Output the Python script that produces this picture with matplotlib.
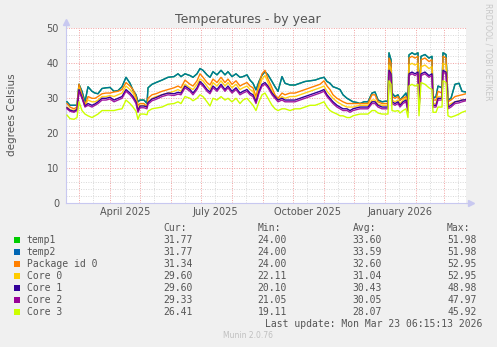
import matplotlib
matplotlib.use('Agg')
import matplotlib.pyplot as plt
from matplotlib.patches import Rectangle
from datetime import datetime, timedelta

# day offsets from 17 Feb 2025 06:15 (one graph pixel per day)
days = [0, 3, 7, 10, 12, 15, 18, 21, 25, 28,
        31, 35, 39, 43, 47, 51, 55, 59, 63, 66,
        69, 71, 73, 77, 80, 81, 85, 89, 95, 101,
        107, 111, 114, 118, 123, 126, 130, 133, 136, 140,
        143, 146, 150, 154, 158, 161, 165, 169, 173, 176,
        180, 183, 186, 189, 192, 195, 198, 201, 205, 208,
        211, 215, 218, 223, 228, 233, 238, 243, 248, 253,
        257, 260, 263, 266, 270, 273, 276, 280, 283, 286,
        290, 293, 297, 301, 305, 308, 311, 315, 319, 321,
        322, 324, 325, 328, 331, 333, 336, 339, 341, 342,
        345, 348, 351, 352, 354, 358, 362, 365, 366, 369,
        371, 375, 376, 379, 381, 384, 388, 392, 395, 399]

temp2 = [29, 28, 28, 28, 34, 32, 29, 33.3, 32, 31.5,
         31.3, 32.8, 33, 33.1, 32, 32.2, 33.3, 36, 34.3, 32.3,
         31, 29, 29.5, 29.5, 28.5, 33, 34, 34.5, 35.2, 36,
         36.2, 37, 36.2, 37, 36.5, 36, 37, 38.5, 38, 36.7,
         36, 37.6, 36.7, 38, 36.7, 37.6, 36.2, 37, 36, 36.2,
         36.7, 35.2, 34.3, 32.4, 34.8, 36.6, 37.6, 36.7, 34.8, 33.3,
         32, 36.2, 34.3, 33.8, 33.8, 34.3, 34.8, 35, 35.2, 35.7,
         36, 34.8, 34.3, 33.3, 32.9, 32.5, 31, 30, 29.5, 29,
         28.8, 28.5, 29, 29, 31.5, 31.8, 29.5, 29, 29.2, 29,
         43, 41, 31.5, 30.5, 31, 29.5, 30.5, 31.5, 28, 42.4,
         43, 42.5, 43, 28.5, 42, 42.5, 41.5, 42, 30, 30.5,
         33.5, 33, 43, 42.5, 29.5, 30, 34, 34.3, 32, 31.8]
temp1 = list(temp2)

package = [28.5, 27.5, 27, 27.5, 34, 31, 28, 30.5, 30, 30,
           30.5, 31.3, 31.5, 31.5, 31.8, 32, 32.5, 34.5, 33.5, 32.5,
           30.5, 28, 28.5, 28.5, 27.5, 30, 31, 31.3, 32, 32.5,
           33, 33.5, 33, 35.2, 34, 33.5, 35, 37, 36, 34.5,
           33.8, 35.5, 34.5, 36, 34.5, 35.5, 34, 35, 33.5, 34,
           34.5, 33.5, 33, 30.5, 34, 37, 38, 35.5, 33, 31,
           30, 31.5, 31, 31.5, 31.5, 32, 32.5, 33, 33.5, 34,
           35, 33.5, 32.5, 31, 30, 29.5, 29, 28.5, 28.5, 28.5,
           28.5, 28.5, 28.5, 28.5, 31, 31, 29, 28.5, 28.5, 28.5,
           41.5, 40, 30.5, 30, 30.5, 29.5, 30, 30.5, 27.5, 41.5,
           42, 41.5, 42, 28, 41, 41.5, 40.5, 41, 29.5, 29.5,
           32, 31.5, 42, 41.5, 29, 29.5, 30.5, 30.8, 31, 31.3]

core0 = [27.5, 26.8, 26.5, 27, 33, 30.5, 27.8, 29.5, 29, 29,
         29.5, 30.5, 30.5, 30.8, 30.5, 31, 31.5, 33.5, 32.5, 31.5,
         29.5, 27, 28, 28, 27.5, 29, 30, 30.5, 31, 31.5,
         32, 32.5, 32, 34, 33, 32.5, 34, 35.5, 35, 33.5,
         32.5, 34.5, 33.5, 35, 33.5, 34.5, 33, 34, 32.5, 33,
         33.5, 32.5, 32, 29.5, 33, 35.5, 36.5, 34.5, 32, 30.5,
         29.5, 30.5, 30, 30.5, 30.5, 31, 31.5, 32, 32.5, 33,
         33.5, 32, 31, 30, 29, 28.5, 28, 27.5, 27.5, 27.5,
         27.8, 28, 28, 28, 29.5, 29.5, 28.3, 28, 28, 28,
         39.5, 38.5, 29.5, 29, 29.5, 28.5, 29.5, 30, 27, 39.5,
         40, 39.5, 40, 27.5, 39, 39.5, 38.5, 39, 28.5, 28.5,
         30.5, 30.5, 40, 39.5, 28, 28.5, 29, 29.3, 29.5, 29.6]

core1 = [27.3, 26.6, 26.3, 26.8, 32.5, 30.3, 27.8, 28.5, 28, 28.4,
         29, 30, 30, 30.3, 29.5, 30, 30.5, 32.5, 31.5, 30.5,
         29, 26.5, 27.8, 27.8, 27.5, 28.8, 29.8, 30.2, 31, 31.5,
         31.3, 31.7, 31.5, 33.5, 32.5, 31.5, 33, 34.8, 34, 32.5,
         31.8, 33.5, 32.5, 34, 32.5, 33.5, 32, 33, 31.5, 32,
         32.5, 31.5, 31, 29, 32, 34, 34.5, 33.5, 31.5, 30.5,
         29.5, 30, 29.5, 29.5, 29.5, 30, 30.5, 31, 31.5, 32,
         32.5, 31, 30, 29, 28, 27.5, 27, 27, 26.5, 27,
         27.3, 27.5, 27.5, 27.5, 29, 29, 28, 27.5, 27.5, 27.5,
         38, 37, 29, 28.5, 29, 28, 29, 29.5, 26.5, 37,
         37.5, 37, 37.5, 27, 37, 37.5, 36.5, 37, 28, 28,
         30, 30, 38, 37.5, 27.5, 28, 29, 29.2, 29.5, 29.6]

core2 = [27, 26.3, 26, 26.5, 32, 30, 27.5, 28, 27.5, 28,
         28.5, 29.5, 29.5, 29.8, 29, 29.5, 30, 32, 31, 30,
         28.5, 26, 27.3, 27.3, 27, 28.3, 29.3, 29.7, 30.5, 31,
         30.8, 31.2, 31, 33, 32, 31, 32.5, 34.3, 33.5, 32,
         31.3, 33, 32, 33.5, 32, 33, 31.5, 32.5, 31, 31.5,
         32, 31, 30.5, 28.5, 31.5, 33.5, 34, 33, 31, 30,
         29, 29.5, 29, 29, 29, 29.5, 30, 30.5, 31, 31.5,
         32, 30.5, 29.5, 28.5, 27.5, 27, 26.5, 26.5, 26, 26.5,
         26.8, 27, 27, 27, 28.5, 28.5, 27.5, 27, 27, 27,
         37.5, 36.5, 28.5, 28, 28.5, 27.5, 28.5, 29, 26, 36.5,
         37, 36.5, 37, 26.5, 36.5, 37, 36, 36.5, 27.5, 27.5,
         29.5, 29.5, 37.5, 37, 27, 27.5, 28.5, 28.7, 29, 29.3]

core3 = [25.2, 24.2, 24, 24.5, 29, 26.5, 25.5, 25, 24.5, 25,
         25.5, 26.5, 26.5, 26.5, 26.5, 26.8, 27, 29.5, 28.5, 27.5,
         26.3, 24, 25.5, 25.5, 25.3, 26.3, 27, 27.2, 27.5, 28.3,
         28.5, 29, 28.5, 30.5, 30, 29.3, 30, 31, 30.5, 29,
         27.8, 30, 29.5, 30.5, 29.5, 30, 29, 30, 28.5, 29.5,
         30, 29, 28, 26.5, 29, 31, 31.5, 30, 28, 27,
         26.5, 27, 27, 26.5, 27, 27, 27.5, 28, 28, 28.5,
         29, 27.5, 26.5, 26, 25.5, 25, 25, 24.5, 24.5, 25,
         25.3, 25.5, 25.5, 25.5, 26.5, 26.5, 25.8, 25.5, 25.5, 25.5,
         35, 34, 26.5, 26.3, 26.5, 25.8, 26.5, 27, 24.5, 33.5,
         34, 33.5, 34, 25, 34.5, 34, 33, 32.5, 26, 26,
         27.5, 27.5, 35, 34.5, 25, 24.6, 25, 25.5, 26, 26.4]

names = ['temp1', 'temp2', 'Package id 0', 'Core 0', 'Core 1', 'Core 2', 'Core 3']
colors = ['#00CC00', '#0066B3', '#FF8000', '#FFCC00', '#330099', '#990099', '#CCFF00']
cur = ['31.77', '31.77', '31.34', '29.60', '29.60', '29.33', '26.41']
mins = ['24.00', '24.00', '24.00', '22.11', '20.10', '21.05', '19.11']
avgs = ['33.60', '33.59', '32.60', '31.04', '30.43', '30.05', '28.07']
maxs = ['51.98', '51.98', '52.95', '52.95', '48.98', '47.97', '45.92']

series = [temp1, temp2, package, core0, core1, core2, core3]
alphas = [1.0, 0.87, 1.0, 0.9, 1.0, 0.9, 1.0]

W, H = 497, 347
txt = '#555555'
mono = 'DejaVu Sans Mono'

fig = plt.figure(figsize=(W / 100, H / 100), dpi=100, facecolor='#F0F0F0')
ax = fig.add_axes([66 / W, 1 - 203.3 / H, 400 / W, 175 / H])
ax.set_facecolor('white')

end = datetime(2026, 3, 23, 6, 15)
start = end - timedelta(days=400)
base = datetime(2025, 2, 17, 6, 15)
dates = [base + timedelta(days=d) for d in days]

# grid: grey minor, red major
for y in range(0, 51, 2):
    if y % 10:
        ax.axhline(y, color='#D8D8D8', lw=0.7, ls=(0, (1, 1.5)), zorder=0)
for y in range(10, 51, 10):
    ax.axhline(y, color='#F2A0A0', lw=0.7, ls=(0, (1, 1.5)), zorder=1)
d = datetime(2025, 2, 15)
while d < end:
    if d > start:
        c = '#F2A0A0' if d.day == 1 else '#D8D8D8'
        ax.axvline(d, color=c, lw=0.7, ls=(0, (1, 1.5)), zorder=1 if d.day == 1 else 0)
    if d.day == 1:
        d = d.replace(day=15)
    elif d.month < 12:
        d = d.replace(day=1, month=d.month + 1)
    else:
        d = d.replace(day=1, month=1, year=d.year + 1)

for s, c, a in zip(series, colors, alphas):
    ax.plot(dates, s, color=c, lw=1.0, alpha=a, zorder=3)

ax.set_xlim(start, end)
ax.set_ylim(0, 50)
ax.set_yticks(range(0, 51, 10))
lab_dates = [datetime(2025, 4, 16), datetime(2025, 7, 16), datetime(2025, 10, 16), datetime(2026, 1, 16)]
ax.set_xticks(lab_dates)
ax.set_xticklabels(['April 2025', 'July 2025', 'October 2025', 'January 2026'])
ax.tick_params(length=0, labelsize=7, colors=txt)
ax.tick_params(axis='y', pad=5)
ax.tick_params(axis='x', pad=3)
for sp in ['top', 'right']:
    ax.spines[sp].set_visible(False)
for sp in ['left', 'bottom']:
    ax.spines[sp].set_color('#C8C8F0')
    ax.spines[sp].set_linewidth(0.8)
ax.plot([0, 0], [1, 1.03], color='#C8C8F0', lw=0.8, transform=ax.transAxes, clip_on=False)
ax.plot([0], [1.035], marker='^', ms=4, color='#C8C8F0', transform=ax.transAxes, clip_on=False)
ax.plot([1, 1.01], [0, 0], color='#C8C8F0', lw=0.8, transform=ax.transAxes, clip_on=False)
ax.plot([1.012], [0], marker='>', ms=4, color='#C8C8F0', transform=ax.transAxes, clip_on=False)

fig.text(248 / W, 1 - 19 / H, 'Temperatures - by year', ha='center', va='center', fontsize=9, color=txt)
fig.text(12 / W, 1 - 115 / H, 'degrees Celsius', rotation=90, ha='center', va='center', fontsize=7.5, color=txt)
fig.text(488 / W, 1 - 52 / H, 'RRDTOOL / TOBI OETIKER', rotation=270, ha='center', va='center',
         fontsize=5.5, color='#C8C8C8')

# legend table
cols = [163, 257.7, 352.7, 447]
for x, h in zip(cols, ['Cur:', 'Min:', 'Avg:', 'Max:']):
    fig.text(x / W, 1 - 227.7 / H, h, family=mono, fontsize=7, color=txt, va='center')
for i, name in enumerate(names):
    y = 239.7 + 12 * i
    fig.add_artist(Rectangle((14 / W, 1 - (y + 3) / H), 6 / W, 6 / H, transform=fig.transFigure,
                             facecolor=colors[i], edgecolor='none'))
    fig.text(26.7 / W, 1 - y / H, name, family=mono, fontsize=7, color=txt, va='center')
    for x, v in zip(cols, [cur[i], mins[i], avgs[i], maxs[i]]):
        fig.text(x / W, 1 - y / H, v, family=mono, fontsize=7, color=txt, va='center')
fig.text(482.5 / W, 1 - 323.7 / H, 'Last update: Mon Mar 23 06:15:13 2026', family=mono, fontsize=7,
         color=txt, va='center', ha='right')
fig.text(248 / W, 1 - 335.7 / H, 'Munin 2.0.76', fontsize=5.5, color='#C0C0C0', va='center', ha='center')

fig.savefig('out.png', dpi=100, facecolor=fig.get_facecolor())
